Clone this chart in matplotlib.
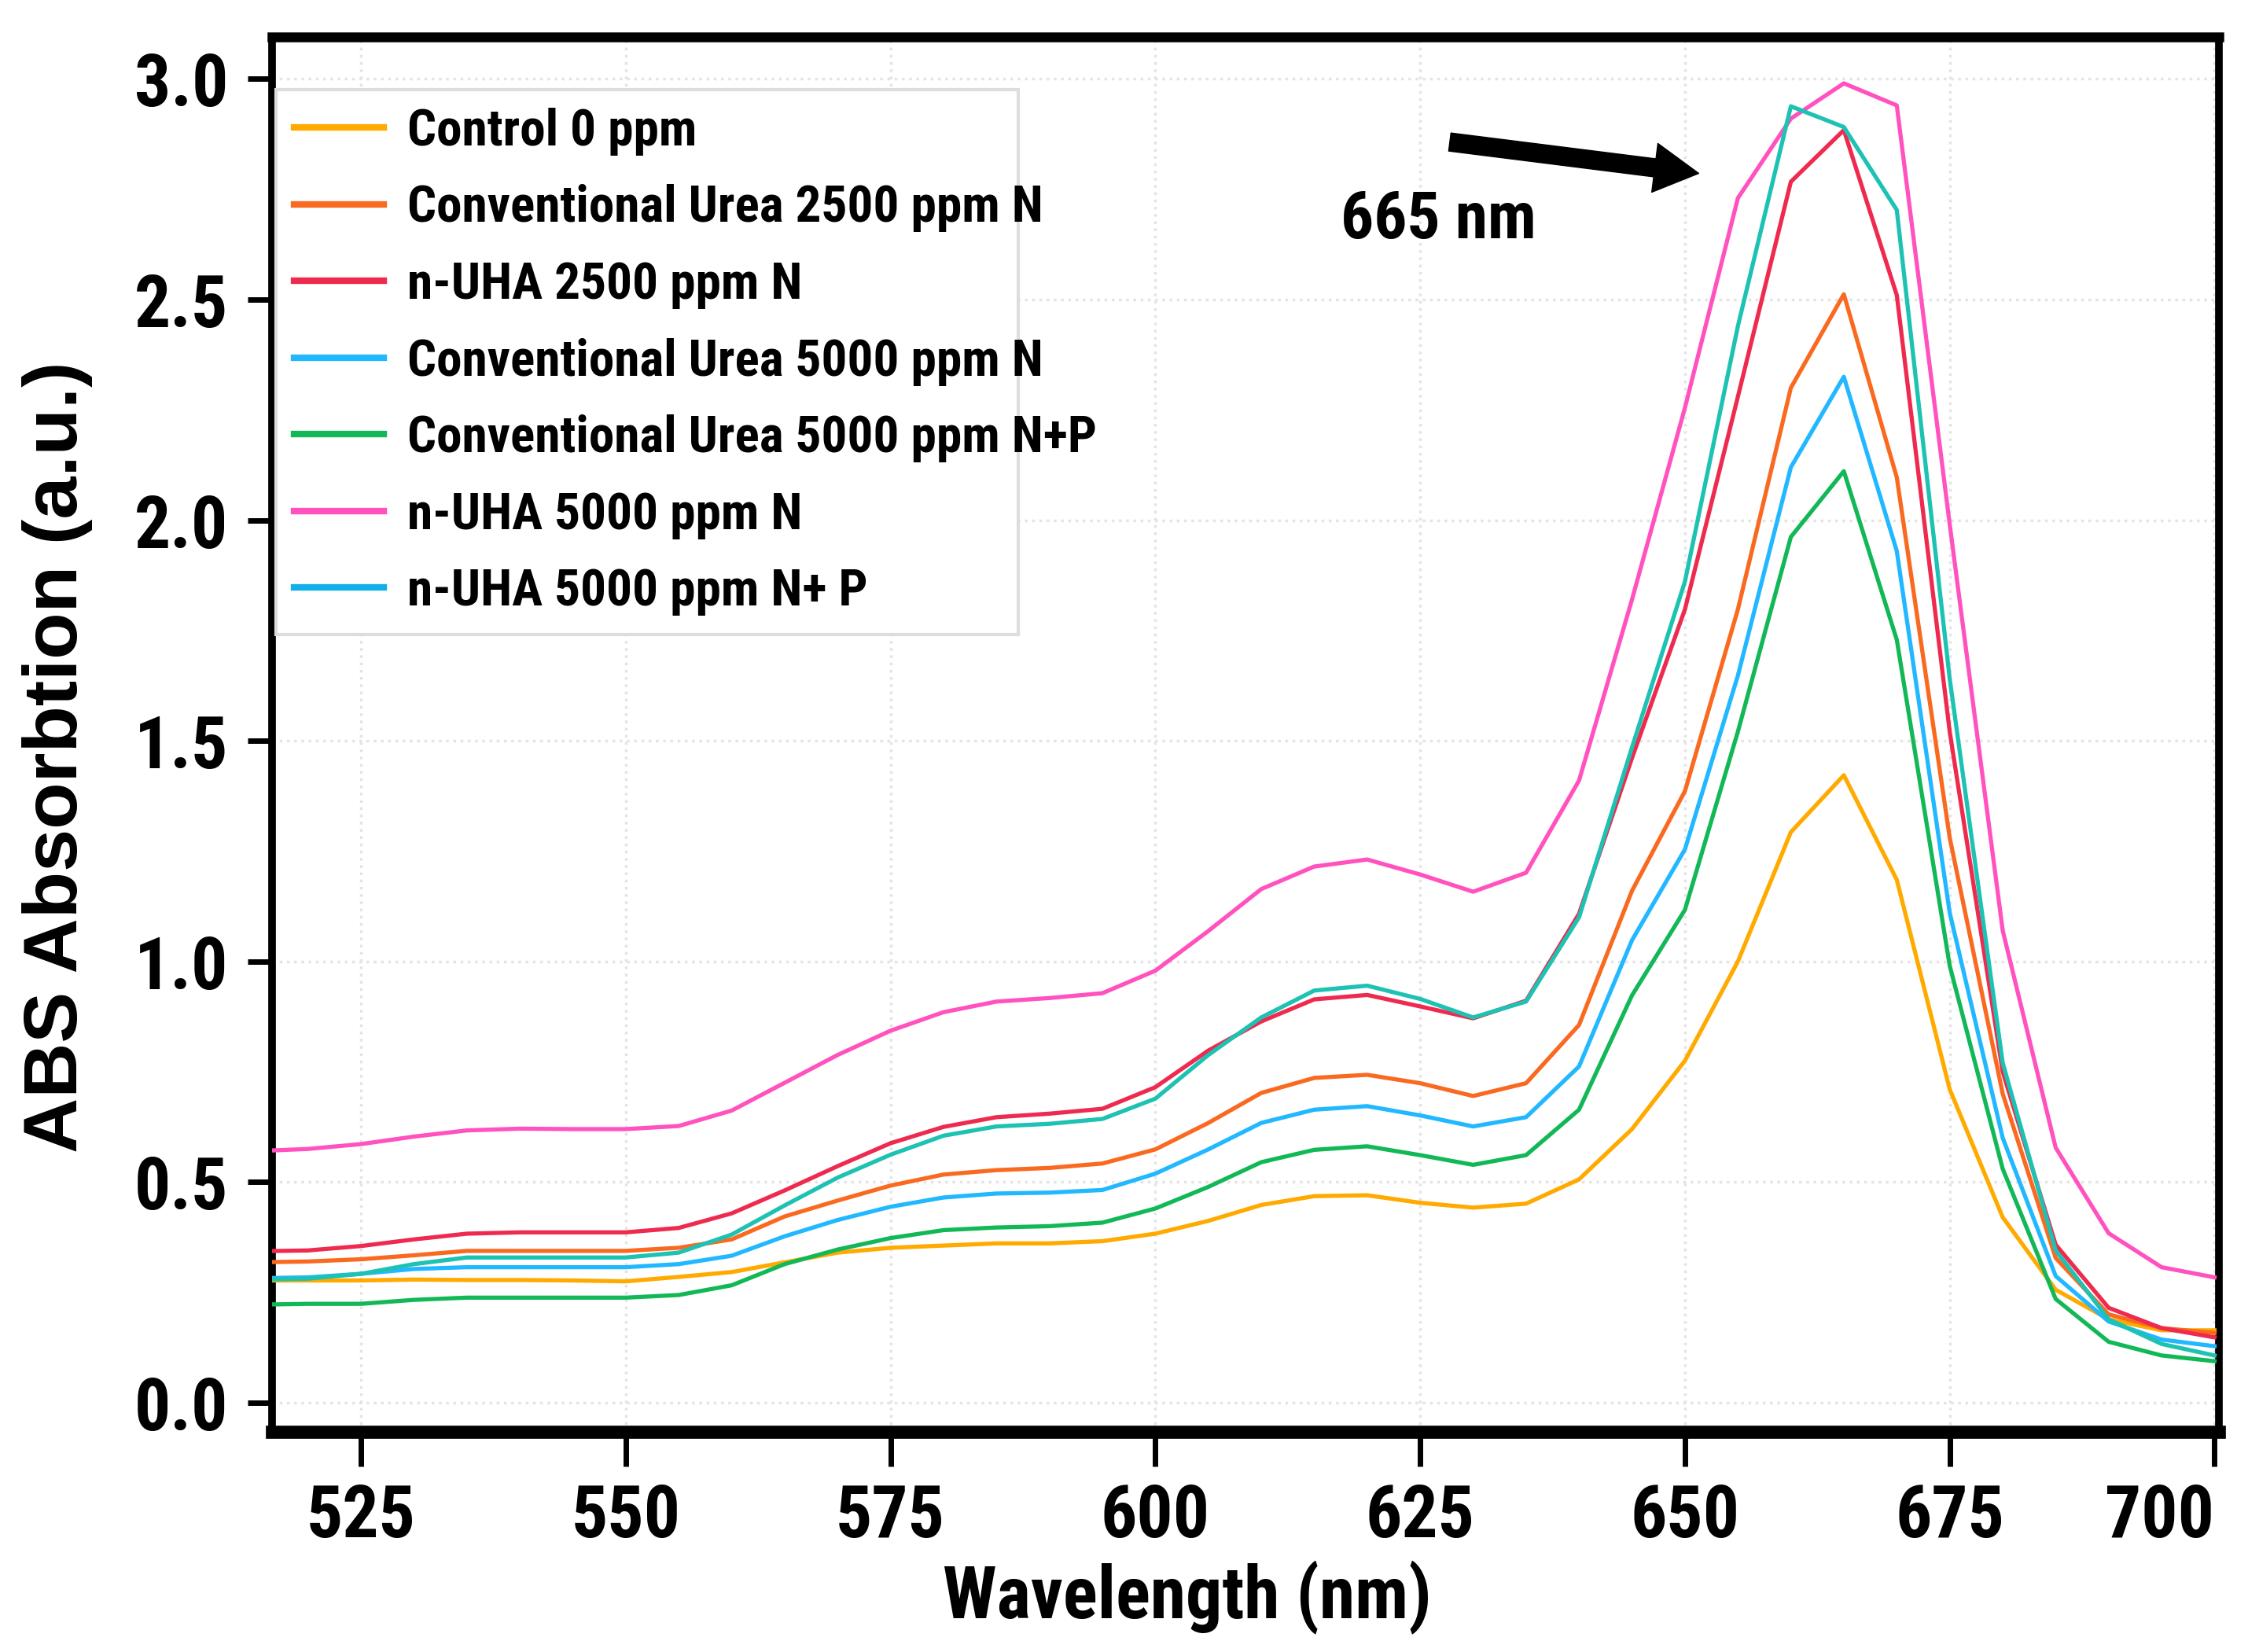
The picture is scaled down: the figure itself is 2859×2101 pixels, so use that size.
import matplotlib
matplotlib.use("Agg")
import matplotlib.pyplot as plt
from matplotlib.lines import Line2D
from matplotlib.patches import Rectangle

# wavelength grid (nm)
wavelength = [515, 520, 525, 530, 535, 540, 545, 550, 555, 560, 565, 570, 575, 580,
              585, 590, 595, 600, 605, 610, 615, 620, 625, 630, 635, 640, 645, 650,
              655, 660, 665, 670, 675, 680, 685, 690, 695, 700]

control_0 = [0.277, 0.277, 0.277, 0.279, 0.278, 0.278, 0.277, 0.275, 0.285, 0.296, 0.318, 0.340,
             0.351, 0.356, 0.361, 0.361, 0.366, 0.383, 0.412, 0.448, 0.468, 0.470, 0.453, 0.442,
             0.451, 0.506, 0.620, 0.775, 1.000, 1.293, 1.422, 1.185, 0.710, 0.420, 0.256, 0.189,
             0.164, 0.164]
conv_2500_n = [0.318, 0.320, 0.325, 0.334, 0.344, 0.344, 0.344, 0.344, 0.351, 0.370, 0.422, 0.458,
               0.492, 0.517, 0.527, 0.532, 0.542, 0.574, 0.634, 0.702, 0.736, 0.743, 0.724, 0.695,
               0.724, 0.856, 1.160, 1.386, 1.798, 2.300, 2.512, 2.097, 1.280, 0.700, 0.328, 0.200,
               0.169, 0.158]
nuha_2500_n = [0.343, 0.345, 0.355, 0.370, 0.383, 0.386, 0.386, 0.386, 0.396, 0.429, 0.481, 0.536,
               0.588, 0.625, 0.647, 0.655, 0.666, 0.715, 0.798, 0.864, 0.914, 0.924, 0.898, 0.871,
               0.911, 1.108, 1.461, 1.798, 2.280, 2.767, 2.884, 2.510, 1.520, 0.750, 0.358, 0.215,
               0.169, 0.148]
conv_5000_n = [0.282, 0.284, 0.292, 0.303, 0.307, 0.307, 0.307, 0.307, 0.314, 0.333, 0.377, 0.414,
               0.444, 0.465, 0.474, 0.476, 0.482, 0.519, 0.574, 0.634, 0.664, 0.672, 0.651, 0.626,
               0.647, 0.762, 1.048, 1.254, 1.648, 2.120, 2.325, 1.930, 1.110, 0.600, 0.287, 0.184,
               0.143, 0.128]
conv_5000_np = [0.222, 0.224, 0.224, 0.233, 0.238, 0.238, 0.238, 0.238, 0.244, 0.266, 0.314, 0.347,
                0.373, 0.391, 0.397, 0.400, 0.408, 0.440, 0.489, 0.545, 0.573, 0.581, 0.561, 0.539,
                0.561, 0.664, 0.923, 1.117, 1.521, 1.962, 2.111, 1.729, 0.990, 0.530, 0.235, 0.138,
                0.107, 0.094]
nuha_5000_n = [0.570, 0.575, 0.586, 0.603, 0.617, 0.621, 0.620, 0.620, 0.627, 0.662, 0.725, 0.788,
               0.843, 0.885, 0.909, 0.917, 0.928, 0.979, 1.069, 1.164, 1.215, 1.231, 1.197, 1.158,
               1.201, 1.410, 1.820, 2.255, 2.730, 2.910, 2.990, 2.940, 1.990, 1.070, 0.578, 0.384,
               0.307, 0.284]
nuha_5000_np = [0.279, 0.281, 0.292, 0.314, 0.329, 0.329, 0.329, 0.329, 0.340, 0.381, 0.447, 0.510,
                0.562, 0.605, 0.626, 0.632, 0.643, 0.689, 0.788, 0.873, 0.934, 0.945, 0.915, 0.873,
                0.909, 1.100, 1.485, 1.861, 2.440, 2.938, 2.891, 2.703, 1.640, 0.770, 0.345, 0.189,
                0.133, 0.107]

labels = ['Control 0 ppm', 'Conventional Urea 2500 ppm N', 'n-UHA 2500 ppm N',
          'Conventional Urea 5000 ppm N', 'Conventional Urea 5000 ppm N+P',
          'n-UHA 5000 ppm N', 'n-UHA 5000 ppm N+ P']
colors = ['#FFAA00', '#F96A20', '#EE2A4F', '#22B8FF', '#12B857', '#FF52BE', '#1DC2B3']
series = [control_0, conv_2500_n, nuha_2500_n, conv_5000_n, conv_5000_np, nuha_5000_n, nuha_5000_np]

narrow = ['Liberation Sans Narrow', 'Roboto Condensed', 'Liberation Sans']

fig = plt.figure(figsize=(28.59, 21.01), dpi=100, facecolor='w')
ax = fig.add_axes([0.121, 0.1333, 0.866, 0.8443])

for y, c in zip(series, colors):
    ax.plot(wavelength, y, color=c, lw=3.8, zorder=3)

ax.set_xlim(516.6, 700.4)
ax.set_ylim(-0.066, 3.095)
ax.set_xticks([525, 550, 575, 600, 625, 650, 675, 700])
ax.set_yticks([0.0, 0.5, 1.0, 1.5, 2.0, 2.5, 3.0])
ax.set_yticklabels(['0.0', '0.5', '1.0', '1.5', '2.0', '2.5', '3.0'])
ax.grid(True, color='#e4e4e4', linestyle=':', lw=2.5, zorder=0)

for s in ['left', 'right']:
    ax.spines[s].set_linewidth(7)
ax.spines['top'].set_linewidth(9)
ax.spines['bottom'].set_linewidth(12)

ax.tick_params(axis='x', direction='out', length=32, width=5, pad=14)
ax.tick_params(axis='y', direction='out', length=22, width=5, pad=18)
for lab in ax.get_xticklabels() + ax.get_yticklabels():
    lab.set_family(narrow)
    lab.set_fontweight('bold')
    lab.set_fontsize(66)
# last x label sits inside the frame, as in the original
ax.get_xticklabels()[-1].set_horizontalalignment('right')

ax.set_xlabel('Wavelength (nm)', family=narrow, fontweight='bold', fontsize=66)
ax.xaxis.set_label_coords(0.470, -0.092)
ax.set_ylabel('ABS Absorbtion (a.u.)', family='Liberation Sans', fontweight='bold', fontsize=70)
ax.yaxis.set_label_coords(-0.092, 0.484)

# peak marker
ax.annotate('', xy=(651.3, 2.786), xytext=(627.8, 2.857),
            arrowprops=dict(arrowstyle='simple,head_length=0.9,head_width=1.0,tail_width=0.37',
                            color='black', mutation_scale=45, shrinkA=0, shrinkB=0))
ax.text(626.7, 2.679, '665 nm', family=narrow, fontweight='bold', fontsize=60,
        ha='center', va='center')

# the original legend box is narrower than its longest entry
ax.add_patch(Rectangle((0.1228, 0.6159), 0.3302, 0.3298, transform=fig.transFigure,
                       facecolor='white', edgecolor='#dddddd', lw=3, zorder=4, clip_on=False))

handles = [Line2D([], [], color=c, lw=6) for c in colors[:-1]]
handles.append(Line2D([], [], color='#12B0E8', lw=6))
leg = ax.legend(handles, labels, loc='upper left', bbox_to_anchor=(0.1228, 0.9457),
                bbox_transform=fig.transFigure, prop=dict(family=narrow, weight='bold', size=47),
                frameon=False, handlelength=1.75, handletextpad=0.45,
                labelspacing=0.56, borderpad=0.35, borderaxespad=0)
leg.set_zorder(6)

fig.savefig('out.png', dpi=100, facecolor='w')
